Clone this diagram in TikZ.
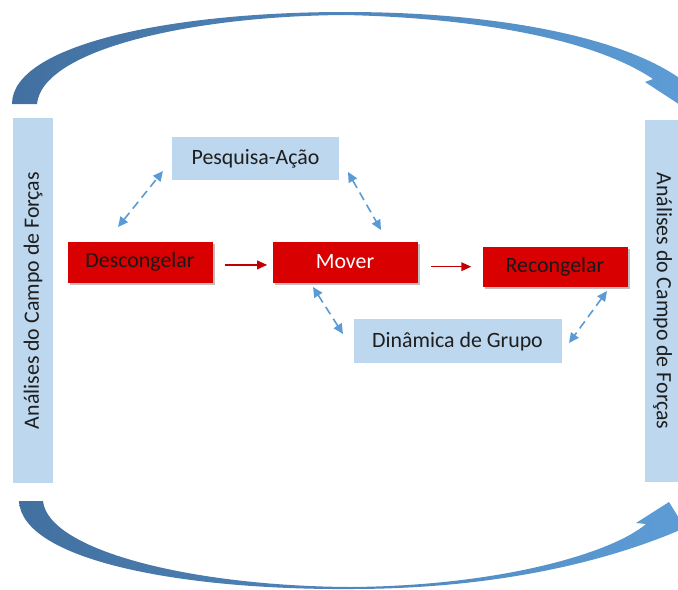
\documentclass[tikz,border=0pt]{standalone}
\usepackage{fontspec}
\setmainfont{Carlito}
\usetikzlibrary{arrows.meta,shadows}

\definecolor{barblue}{RGB}{189,215,238}
\definecolor{boxred}{RGB}{216,0,0}
\definecolor{linkblue}{RGB}{91,155,213}
\definecolor{arcdark}{RGB}{66,112,160}
\definecolor{arclight}{RGB}{93,157,215}
\definecolor{flowred}{RGB}{192,0,0}
\definecolor{textgrey}{RGB}{30,30,30}

\begin{document}
\begin{tikzpicture}[x=0.75pt,y=-0.75pt,
  labeltext/.style={font=\fontsize{16.4}{19}\selectfont},
  lbox/.style={labeltext, fill=barblue, inner sep=0pt, text=textgrey},
  rbox/.style={labeltext, fill=boxred, inner sep=0pt,
    minimum width=145*0.75pt, minimum height=41*0.75pt,
    drop shadow={shadow xshift=1.6pt, shadow yshift=-1.6pt, fill=black, opacity=0.25}},
  flow/.style={draw=flowred, line width=1.1pt, -{Triangle[length=7.5pt,width=6.5pt]}},
  link/.style={draw=linkblue, line width=1.2pt, dash pattern=on 6.5pt off 4pt,
    {Triangle[length=7.5pt,width=7pt]}-{Triangle[length=7.5pt,width=7pt]}}
]
\useasboundingbox (0,0) rectangle (678,589);
\clip (0,0) rectangle (678,589);

% upper curved arrow
\shade[left color=arcdark, right color=arclight]
  (12,104) .. controls (12,45) and (170,12) .. (345,12)
  .. controls (500,12) and (625,38) .. (682,80)
  -- (698,68) -- (700,118) -- (645,82) -- (653,79)
  .. controls (595,40) and (480,18) .. (345,15)
  .. controls (190,16) and (42,50) .. (37,104) -- cycle;

% lower curved arrow
\shade[left color=arcdark, right color=arclight]
  (19,501) .. controls (22,560) and (180,590) .. (350,589)
  .. controls (500,589) and (610,560) .. (680,530)
  -- (690,536) -- (669,502) -- (636,523) -- (646,524)
  .. controls (612,553) and (500,586) .. (350,587)
  .. controls (190,586) and (48,550) .. (43,501) -- cycle;

% side bars
\node[lbox, rotate=90, minimum width=365*0.75pt, minimum height=40*0.75pt]
  (leftbar) at (33,300.5) {Análises do Campo de Forças};
\node[lbox, rotate=-90, minimum width=362*0.75pt, minimum height=35*0.75pt]
  (rightbar) at (662.5,301) {Análises do Campo de Forças};

% method boxes
\node[lbox, minimum width=167*0.75pt, minimum height=43*0.75pt]
  (pesquisa) at (255.5,158.6) {Pesquisa-Ação};
\node[lbox, minimum width=208*0.75pt, minimum height=44*0.75pt]
  (dinamica) at (457.5,341.3) {Dinâmica de Grupo};

% stage boxes
\node[rbox, text=black!90] (descongelar) at (140,262) {Descongelar};
\node[rbox, text=white] (mover) at (345,262) {Mover};
\node[rbox, text=black!90, minimum height=40*0.75pt] (recongelar) at (555,266.7) {Recongelar};

% stage flow
\draw[flow, shorten <=9pt, shorten >=3.8pt]
  ([yshift=-2.2pt]descongelar.east) -- ([yshift=-2.2pt]mover.west);
\draw[flow, shorten <=9.8pt, shorten >=8.2pt]
  (mover.east |- recongelar.west) -- (recongelar.west);

% dashed links between stages and methods
\coordinate (d1a) at (118,227);
\coordinate (d1b) at (163,171);
\coordinate (d2a) at (348,172);
\coordinate (d2b) at (381,230);
\coordinate (d3a) at (313,287);
\coordinate (d3b) at (343,334);
\coordinate (d4a) at (607,291);
\coordinate (d4b) at (569,343);
\draw[link] (d1a) -- (d1b);
\draw[link] (d2a) -- (d2b);
\draw[link] (d3a) -- (d3b);
\draw[link] (d4a) -- (d4b);
\end{tikzpicture}
\end{document}
